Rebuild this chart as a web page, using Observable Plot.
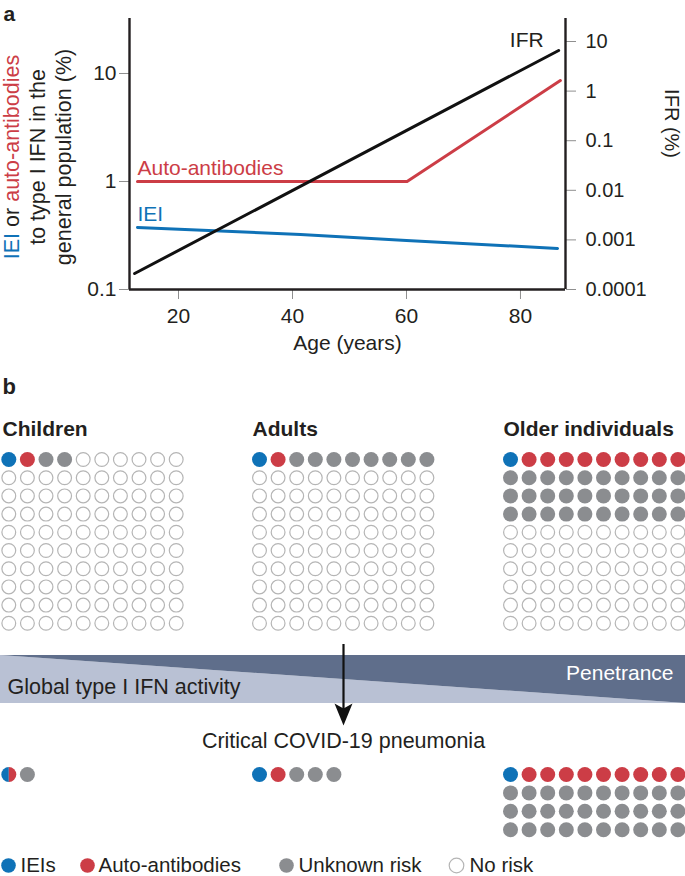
<!DOCTYPE html>
<html>
<head>
<meta charset="utf-8">
<script src="https://cdn.jsdelivr.net/npm/d3@7"></script>
<script src="https://cdn.jsdelivr.net/npm/@observablehq/plot@0.6"></script>
<style>
  html, body { margin: 0; padding: 0; background: #fff; }
  svg { display: block; }
</style>
</head>
<body>
<div id="chart"></div>
<script>
// ---------------- data: panel a ----------------
const ageTicks = [20, 40, 60, 80];
const leftTicks = [0.1, 1, 10];
const ifrTicks = [0.0001, 0.001, 0.01, 0.1, 1, 10];
const ifrTickLabels = ["0.0001", "0.001", "0.01", "0.1", "1", "10"];

const ifrAges = [12.3, 86.7];
const ifrValues = [0.00021, 6.6];            // IFR (%)

const autoAges = [12.8, 60.1, 87.0];
const autoValues = [1, 1, 8.6];              // % of population

const ieiAges = [12.8, 41.4, 60.0, 86.5];
const ieiValues = [0.375, 0.323, 0.284, 0.240];

// ---------------- data: panel b ----------------
const groups = ["Children", "Adults", "Older individuals"];
const categories = ["IEIs", "Auto-antibodies", "Unknown risk", "No risk"];
const popIei = [1, 1, 1];
const popAuto = [1, 1, 9];
const popUnknown = [2, 8, 30];
const popNone = [96, 90, 60];

const critMixed = [1, 0, 0];    // one dot shared IEI / auto-antibodies
const critIei = [0, 1, 1];
const critAuto = [0, 1, 9];
const critUnknown = [1, 3, 30];

// ---------------- style ----------------
const FONT = "'Liberation Sans', Arial, Helvetica, sans-serif";
const INK = "#231f20";
const BLUE = "#0f72b7";
const RED = "#cc3d46";
const GRAY = "#8b8d90";
const EMPTY = "#b5b5b5";
const TICK = "#8f8f8f";
const catColor = {"IEIs": BLUE, "Auto-antibodies": RED, "Unknown risk": GRAY, "No risk": "#fff"};

// ---------------- panel a ----------------
const xDomain = [11.4, 87.9];
const yDomain = [0.1, 32.3];       // left axis (%)
const ifrDomain = [0.0001, 29.1];  // right axis (IFR %), same pixel range
function ifrToLeft(v) {
  const t = (Math.log10(v) - Math.log10(ifrDomain[0])) / (Math.log10(ifrDomain[1]) - Math.log10(ifrDomain[0]));
  return Math.pow(10, Math.log10(yDomain[0]) + t * (Math.log10(yDomain[1]) - Math.log10(yDomain[0])));
}
const ifrData = ifrAges.map((a, i) => ({age: a, v: ifrToLeft(ifrValues[i])}));
const autoData = autoAges.map((a, i) => ({age: a, v: autoValues[i]}));
const ieiData = ieiAges.map((a, i) => ({age: a, v: ieiValues[i]}));
const ifrTickRows = ifrTicks.map((t, i) => ({pos: ifrToLeft(t), label: ifrTickLabels[i]}));

const topChart = Plot.plot({
  width: 685, height: 360,
  marginLeft: 129, marginRight: 120, marginTop: 18, marginBottom: 71,
  x: {domain: xDomain},
  y: {type: "log", domain: yDomain},
  style: {fontFamily: FONT, fontSize: "21px", color: INK, background: "#fff", overflow: "visible"},
  marks: [
    Plot.axisX({ticks: ageTicks, tickSize: 10, tickPadding: 9, stroke: TICK, fill: INK, label: null, fontSize: 21}),
    Plot.axisY(leftTicks, {anchor: "left", tickSize: 10, tickPadding: 3, stroke: TICK, fill: INK, label: null, fontSize: 21, tickFormat: d => String(d)}),
    Plot.axisY(ifrTickRows.map(d => d.pos), {anchor: "right", tickSize: 10, tickPadding: 10, stroke: TICK, fill: INK, label: null, tickFormat: () => ""}),
    Plot.text(ifrTickRows, {frameAnchor: "right", y: "pos", text: "label", dx: 20, textAnchor: "start", lineAnchor: "middle", fill: INK, fontSize: 20}),
    Plot.ruleY([yDomain[0]], {stroke: INK, strokeWidth: 2.4}),
    Plot.ruleX(xDomain, {stroke: INK, strokeWidth: 2.4}),
    Plot.line(ieiData, {x: "age", y: "v", stroke: BLUE, strokeWidth: 3}),
    Plot.line(autoData, {x: "age", y: "v", stroke: RED, strokeWidth: 3}),
    Plot.line(ifrData, {x: "age", y: "v", stroke: "#111", strokeWidth: 3}),
    Plot.text([autoData[0]], {x: "age", y: "v", text: () => "Auto-antibodies", textAnchor: "start", lineAnchor: "bottom", dy: -6, fill: RED, fontSize: 21}),
    Plot.text([ieiData[0]], {x: "age", y: "v", text: () => "IEI", textAnchor: "start", lineAnchor: "bottom", dy: -7, fill: BLUE, fontSize: 21}),
    Plot.text([ifrData[1]], {x: "age", y: "v", text: () => "IFR", textAnchor: "end", lineAnchor: "bottom", dx: -15, dy: -3, fill: INK, fontSize: 21}),
    Plot.text(["Age (years)"], {frameAnchor: "bottom", lineAnchor: "bottom", dy: 60, fill: INK, fontSize: 21}),
    Plot.text(["IFR (%)"], {frameAnchor: "right", rotate: 90, lineAnchor: "middle", dx: 106, dy: 4, fill: INK, fontSize: 20}),
    Plot.text(["a"], {frameAnchor: "top-left", dx: -126, dy: 2, textAnchor: "start", lineAnchor: "bottom", fontWeight: "bold", fontSize: 21, fill: INK})
  ]
});

// left multi-coloured axis title
const ts = d3.select(topChart);
const title = ts.append("g").attr("font-family", FONT).attr("font-size", 21.5).attr("fill", INK).attr("text-anchor", "middle");
const l1 = title.append("text").attr("transform", "translate(19,157) rotate(-90)");
l1.append("tspan").attr("fill", BLUE).text("IEI");
l1.append("tspan").text(" or ");
l1.append("tspan").attr("fill", RED).text("auto-antibodies");
title.append("text").attr("transform", "translate(45,157) rotate(-90)").text("to type I IFN in the");
title.append("text").attr("transform", "translate(71,157) rotate(-90)").text("general population (%)");

// ---------------- panel b ----------------
const groupX0 = [8.3, 259, 510];
const colStep = 18.6;
const popY0 = 459, popRowStep = 18.2;
const critY0 = 774, critRowStep = 18.4;

function buildGrid(countArrays, cats, g, y0, rowStep) {
  const out = [];
  let i = 0;
  countArrays.forEach((arr, k) => {
    for (let n = 0; n < arr[g]; n++) {
      out.push({cat: cats[k], x: groupX0[g] + (i % 10) * colStep, y: y0 + Math.floor(i / 10) * rowStep});
      i++;
    }
  });
  return out;
}
let popDots = [], critDots = [];
groups.forEach((_, g) => {
  popDots = popDots.concat(buildGrid([popIei, popAuto, popUnknown, popNone], ["IEIs", "Auto-antibodies", "Unknown risk", "No risk"], g, popY0, popRowStep));
  critDots = critDots.concat(buildGrid([critMixed, critIei, critAuto, critUnknown], ["Mixed", "IEIs", "Auto-antibodies", "Unknown risk"], g, critY0, critRowStep));
});
const allDots = popDots.concat(critDots);
const filled = allDots.filter(d => d.cat !== "No risk" && d.cat !== "Mixed");
const empty = allDots.filter(d => d.cat === "No risk");
const mixed = allDots.filter(d => d.cat === "Mixed");

const leftHalf = {draw(ctx, size) { const r = Math.sqrt(size / Math.PI); ctx.moveTo(0, -r); ctx.arc(0, 0, r, -Math.PI / 2, Math.PI / 2, true); ctx.closePath(); }};
const rightHalf = {draw(ctx, size) { const r = Math.sqrt(size / Math.PI); ctx.moveTo(0, -r); ctx.arc(0, 0, r, -Math.PI / 2, Math.PI / 2, false); ctx.closePath(); }};
const arrowHead = {draw(ctx, size) { const k = Math.sqrt(size) / 20; ctx.moveTo(0, 11 * k); ctx.lineTo(-9 * k, -11 * k); ctx.lineTo(0, -6 * k); ctx.lineTo(9 * k, -11 * k); ctx.closePath(); }};

const bandLight = [{x: 0, y1: 655, y2: 703}, {x: 685, y1: 703, y2: 703}];
const bandDark = [{x: 0, y1: 655, y2: 655}, {x: 685, y1: 655, y2: 703}];
const headerX = [2, 252, 503];
const legendDotX = [8, 87, 286, 456];
const legendTextX = [20, 98, 298, 469];

const bottomChart = Plot.plot({
  width: 685, height: 516, margin: 0,
  x: {domain: [0, 685], range: [0, 685], axis: null},
  y: {domain: [360, 876], range: [0, 516], axis: null},
  style: {fontFamily: FONT, fontSize: "21px", color: INK, background: "#fff", overflow: "visible"},
  marks: [
    Plot.text(["b"], {x: 2, y: 393, textAnchor: "start", lineAnchor: "bottom", fontWeight: "bold", fontSize: 22, fill: INK}),
    Plot.text(groups, {x: (d, i) => headerX[i], y: 435, textAnchor: "start", lineAnchor: "bottom", fontWeight: "bold", fontSize: 21, fill: INK}),
    Plot.dot(filled, {x: "x", y: "y", r: 7.5, fill: d => catColor[d.cat], stroke: "none"}),
    Plot.dot(empty, {x: "x", y: "y", r: 6.9, fill: "#fff", stroke: EMPTY, strokeWidth: 1.2}),
    Plot.dot(mixed, {x: "x", y: "y", r: 7.5, symbol: leftHalf, fill: BLUE, stroke: "none"}),
    Plot.dot(mixed, {x: "x", y: "y", r: 7.5, symbol: rightHalf, fill: RED, stroke: "none"}),
    Plot.areaY(bandLight, {x: "x", y1: "y1", y2: "y2", fill: "#b9c1d4"}),
    Plot.areaY(bandDark, {x: "x", y1: "y1", y2: "y2", fill: "#5f6e8b"}),
    Plot.text(["Penetrance"], {x: 673, y: 679, textAnchor: "end", lineAnchor: "bottom", fill: "#fff", fontSize: 21}),
    Plot.text(["Global type I IFN activity"], {x: 7, y: 693, textAnchor: "start", lineAnchor: "bottom", fill: INK, fontSize: 21.5}),
    Plot.ruleX([343], {y1: 644, y2: 710, stroke: "#111", strokeWidth: 2.2}),
    Plot.dot([343], {x: d => d, y: 714, r: 20 / Math.sqrt(Math.PI), symbol: arrowHead, fill: "#111", stroke: "none"}),
    Plot.text(["Critical COVID-19 pneumonia"], {x: 343, y: 747, textAnchor: "middle", lineAnchor: "bottom", fill: INK, fontSize: 21.5}),
    Plot.dot(categories, {x: (d, i) => legendDotX[i], y: 865, r: 7.3, fill: d => catColor[d], stroke: d => d === "No risk" ? EMPTY : "none", strokeWidth: 1.2}),
    Plot.text(categories, {x: (d, i) => legendTextX[i], y: 865, textAnchor: "start", lineAnchor: "middle", fill: INK, fontSize: 20.5})
  ]
});

const host = document.getElementById("chart");
host.appendChild(topChart);
host.appendChild(bottomChart);
</script>
</body>
</html>
